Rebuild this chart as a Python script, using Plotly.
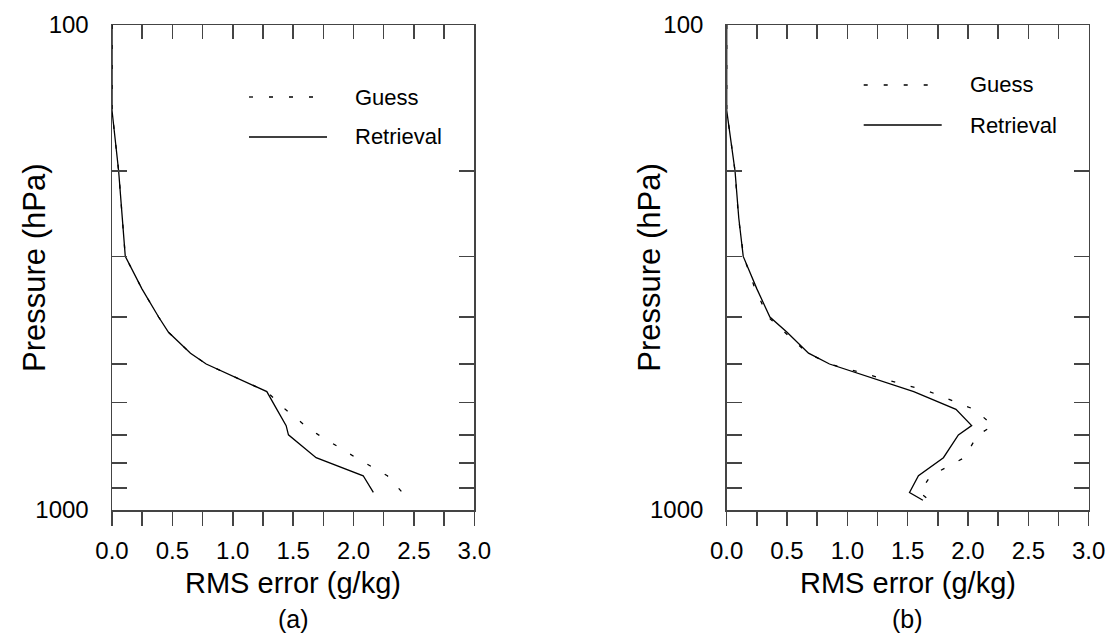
import plotly.graph_objects as go

# ---- data ----
pressure = [100, 150, 200, 250, 300, 350, 400, 430, 475, 500, 570, 620, 670, 700, 780, 850, 920, 955]

guess_a = [0, 0, 0.055, 0.083, 0.11, 0.248, 0.386, 0.468, 0.65, 0.78, 1.282, 1.435, 1.60, 1.71, 2.02, 2.28, 2.404, None]
retr_a = [0, 0, 0.055, 0.083, 0.11, 0.248, 0.386, 0.468, 0.65, 0.78, 1.282, 1.365, 1.442, 1.461, 1.69, 2.08, 2.164, None]

guess_b = [0, 0, 0.069, 0.098, 0.14, 0.235, 0.344, 0.48, 0.67, 0.855, 1.68, 2.05, 2.21, 2.08, 1.97, 1.69, 1.60, 1.68]
retr_b = [0, 0, 0.069, 0.10, 0.137, 0.25, 0.358, 0.50, 0.678, 0.852, 1.55, 1.90, 2.03, 1.92, 1.796, 1.589, 1.515, 1.626]

x_ticks = [0.0, 0.5, 1.0, 1.5, 2.0, 2.5, 3.0]
y_tickvals = [100, 200, 300, 400, 500, 600, 700, 800, 900, 1000]
y_ticktext = ["100", "", "", "", "", "", "", "", "", "1000"]

panel_labels = ["(a)", "(b)"]
legend_names = ["Guess", "Retrieval"]
x_title = "RMS error (g/kg)"
y_title = "Pressure (hPa)"

# ---- geometry: target pixel positions in the 1109x637 window (page body margin removed) ----
W, H = 1109, 637


def px(x):
    return x / W


def py(y):
    return 1 - y / H


FONT = "Arial, Liberation Sans, sans-serif"
AX = "#444444"
panels = [
    dict(x0=112, x1=474.3, guess=guess_a, retr=retr_a, leg_y=(97, 137)),
    dict(x0=726.7, x1=1088.7, guess=guess_b, retr=retr_b, leg_y=(85, 125)),
]
Y_TOP, Y_BOT = 25, 510
DASH = "4px,16px"

fig = go.Figure()
layout = dict(
    template="none",
    width=W, height=H, autosize=False,
    margin=dict(l=0, r=0, t=0, b=0, pad=0, autoexpand=False),
    paper_bgcolor="white", plot_bgcolor="white", showlegend=False,
    font=dict(family=FONT, color="black"),
)
annotations = []
shapes = []

for i, p in enumerate(panels):
    n = i + 1
    xb = "x" if n == 1 else f"x{n}"          # bottom axis
    xt = f"x{n + 2}"                          # top overlay axis
    ya = "y" if n == 1 else f"y{n}"
    dom_x = [px(p["x0"]), px(p["x1"])]
    dom_y = [py(Y_BOT), py(Y_TOP)]

    fig.add_trace(go.Scatter(x=p["retr"], y=pressure, mode="lines", name=legend_names[1],
                             line=dict(color="black", width=1.3), xaxis=xb, yaxis=ya))
    fig.add_trace(go.Scatter(x=p["guess"], y=pressure, mode="lines", name=legend_names[0],
                             line=dict(color="black", width=1.3, dash=DASH),
                             xaxis=xt, yaxis=ya))

    common_x = dict(range=[0, 3], domain=dom_x, showgrid=False, zeroline=False, automargin=False,
                    showline=True, linecolor=AX, linewidth=1.5,
                    tick0=0, dtick=0.5, ticklen=14, tickwidth=1.5, tickcolor=AX,
                    minor=dict(dtick=0.25, ticklen=14, tickwidth=1.5, tickcolor=AX, showgrid=False))
    layout[f"xaxis{'' if n == 1 else n}"] = dict(
        **common_x, anchor=ya, side="bottom", ticks="outside",
        tickvals=x_ticks, ticktext=[f"{v:.1f}" for v in x_ticks],
        tickfont=dict(size=24), ticklabelstandoff=5, ticklabeloverflow="allow")
    cx = dict(common_x)
    cx["minor"] = dict(cx["minor"], ticks="inside")
    layout[f"xaxis{n + 2}"] = dict(
        **cx, anchor=ya, side="top", overlaying=xb, ticks="inside",
        showticklabels=False)
    layout[f"yaxis{'' if n == 1 else n}"] = dict(
        type="log", range=[3, 2], domain=dom_y, anchor=xb, automargin=False,
        showgrid=False, zeroline=False, showline=True, linecolor=AX, linewidth=1.5,
        mirror="ticks", ticks="inside", ticklen=15, tickwidth=1.5, tickcolor=AX,
        tickvals=y_tickvals, ticktext=y_ticktext, tickfont=dict(size=24),
        ticklabelstandoff=17, ticklabeloverflow="allow")

    cxp = (p["x0"] + p["x1"]) / 2
    annotations.append(dict(text=x_title, x=px(cxp), y=py(583), xref="paper", yref="paper",
                            showarrow=False, font=dict(size=29), xanchor="center", yanchor="middle"))
    annotations.append(dict(text=panel_labels[i], x=px(cxp), y=py(619), xref="paper", yref="paper",
                            showarrow=False, font=dict(size=25), xanchor="center", yanchor="middle"))
    annotations.append(dict(text=y_title, x=px(p["x0"] - 78), y=py(268), xref="paper", yref="paper",
                            showarrow=False, font=dict(size=31), textangle=-90,
                            xanchor="center", yanchor="middle"))
    # legend
    lx0, lx1 = p["x0"] + 137, p["x0"] + 215
    for name, ly, dash in zip(legend_names, p["leg_y"], [DASH, "solid"]):
        shapes.append(dict(type="line", xref="paper", yref="paper",
                           x0=px(lx0), x1=px(lx1), y0=py(ly), y1=py(ly),
                           line=dict(color="black", width=1.3, dash=dash)))
        annotations.append(dict(text=name, x=px(p["x0"] + 241), y=py(ly), xref="paper", yref="paper",
                                showarrow=False, font=dict(size=22), xanchor="left", yanchor="middle"))

layout["annotations"] = annotations
layout["shapes"] = shapes
fig.update_layout(**layout)
fig.write_html("out.html", config={"displayModeBar": False, "staticPlot": True},
               post_script="document.body.style.margin='0';document.body.style.overflow='hidden';")
